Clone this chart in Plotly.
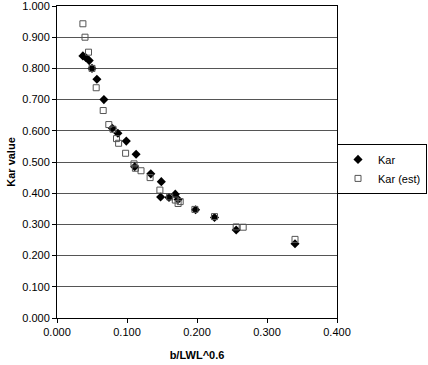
import plotly.graph_objects as go

kar_x = [0.037, 0.041, 0.046, 0.050, 0.057, 0.067, 0.079, 0.087, 0.099, 0.113, 0.111,
         0.134, 0.149, 0.148, 0.160, 0.169, 0.173, 0.198, 0.225, 0.256, 0.340]
kar_y = [0.840, 0.835, 0.825, 0.800, 0.765, 0.700, 0.608, 0.592, 0.567, 0.525, 0.485,
         0.462, 0.437, 0.388, 0.386, 0.397, 0.380, 0.347, 0.322, 0.282, 0.238]

est_x = [0.037, 0.040, 0.045, 0.050, 0.056, 0.066, 0.074, 0.080, 0.085, 0.088, 0.098,
         0.110, 0.112, 0.120, 0.133, 0.147, 0.161, 0.169, 0.173, 0.176, 0.197, 0.225,
         0.256, 0.266, 0.340]
est_y = [0.943, 0.900, 0.852, 0.800, 0.738, 0.665, 0.620, 0.605, 0.575, 0.560, 0.528,
         0.494, 0.480, 0.472, 0.450, 0.410, 0.388, 0.378, 0.367, 0.373, 0.348, 0.325,
         0.292, 0.291, 0.252]

x_ticks = [0.0, 0.1, 0.2, 0.3, 0.4]
y_ticks = [0.0, 0.1, 0.2, 0.3, 0.4, 0.5, 0.6, 0.7, 0.8, 0.9, 1.0]

FONT = "Liberation Sans, Arial, sans-serif"

fig = go.Figure()
fig.add_trace(go.Scatter(
    x=kar_x, y=kar_y, mode="markers", name="Kar",
    marker=dict(symbol="diamond", size=7, color="black", line=dict(width=0))))
fig.add_trace(go.Scatter(
    x=est_x, y=est_y, mode="markers", name="Kar (est)",
    marker=dict(symbol="square-open", size=6, color="#555555", line=dict(width=1))))

fig.update_layout(
    width=428, height=365,
    margin=dict(l=57, r=91, t=6, b=47, autoexpand=False),
    paper_bgcolor="white", plot_bgcolor="white",
    font=dict(family=FONT, size=11, color="black"),
    showlegend=True,
    legend=dict(x=1.0, y=0.558, xanchor="left", yanchor="top",
                bordercolor="black", borderwidth=1, bgcolor="white",
                font=dict(size=11), itemwidth=30, tracegroupgap=0),
    xaxis=dict(range=[0, 0.4], tickvals=x_ticks, tickformat=".3f", automargin=False,
               showgrid=False, zeroline=False, showline=True, mirror=True,
               linecolor="black", linewidth=1, ticks="outside", ticklen=4,
               tickcolor="black", ticklabeloverflow="allow",
               title=dict(text="<b>b/LWL^0.6</b>", font=dict(size=11), standoff=14)),
    yaxis=dict(range=[0, 1.0], tickvals=y_ticks, tickformat=".3f", automargin=False,
               showgrid=True, gridcolor="#555555", gridwidth=1, zeroline=False,
               showline=True, mirror=True, linecolor="black", linewidth=1,
               ticks="outside", ticklen=4, tickcolor="black", ticklabeloverflow="allow",
               title=dict(text="<b>Kar value</b>", font=dict(size=11), standoff=4)),
)

fig.write_html("out.html", config={"displayModeBar": False},
               post_script="document.body.style.margin='0';")
